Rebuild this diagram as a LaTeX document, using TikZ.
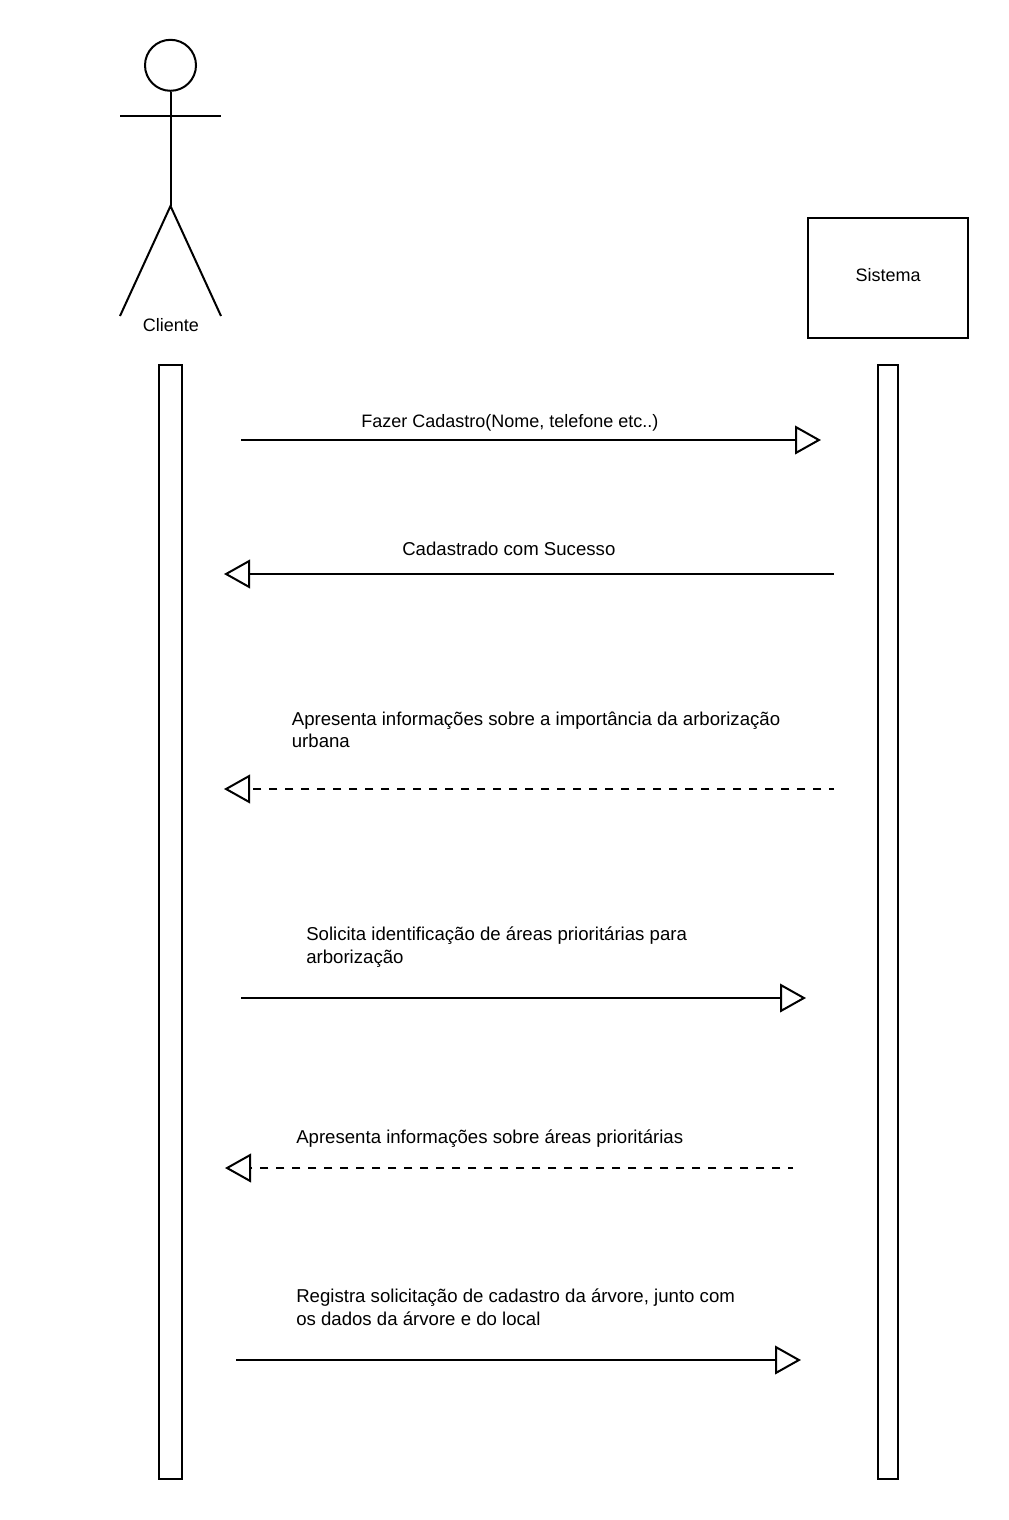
\documentclass[tikz,border=0pt]{standalone}
\usepackage{fontspec}
\setmainfont{Liberation Sans}
\usetikzlibrary{arrows.meta}
\tikzset{
  ln/.style={line width=1.5pt,draw=black},
  box/.style={ln,rectangle,inner sep=0pt,fill=white},
  msg/.style={ln,-{Triangle[open,fill=white,length=19.5pt,width=21.5pt,line width=1.5pt]}},
  ret/.style={msg,dash pattern=on 6.5pt off 5.5pt,dash phase=2.5pt},
  lbl/.style={inner sep=0pt,anchor=base west,align=left,font=\fontsize{13.5pt}{16.9pt}\selectfont,text=black},
  wide/.style={lbl,font=\fontsize{13.96pt}{16.9pt}\selectfont},
}
\begin{document}
\begin{tikzpicture}[x=0.75pt,y=-0.75pt]
\useasboundingbox (0,0) rectangle (1009,1520);
% actor
\node[ln,circle,draw,inner sep=0pt,minimum size=38.25pt] (head) at (170.5,65.3) {};
\coordinate (hip) at (170.5,206);
\coordinate (armL) at (120,116);
\coordinate (armR) at (221,116);
\coordinate (footL) at (120,316);
\coordinate (footR) at (221,316);
\draw[ln] (head.south) -- (hip);
\draw[ln] (armL) -- (armR);
\draw[ln] (footL) -- (hip) -- (footR);
\node[lbl,anchor=base] (cliente) at (170.8,331) {Cliente};
% system
\node[box,minimum width=120pt,minimum height=90pt] (sistema) at (888,278) {};
\node[lbl,anchor=base] (sistemaT) at (888,281) {Sistema};
% lifelines
\node[box,minimum width=17.25pt,minimum height=835.5pt] (lifeA) at (170.5,922) {};
\node[box,minimum width=15pt,minimum height=835.5pt] (lifeB) at (888,922) {};
% messages
\coordinate (m1a) at (241,440); \coordinate (m1b) at (821,440);
\coordinate (m2a) at (834,574); \coordinate (m2b) at (224,574);
\coordinate (m3a) at (834,789); \coordinate (m3b) at (224,789);
\coordinate (m4a) at (241,998); \coordinate (m4b) at (806,998);
\coordinate (m5a) at (793,1168); \coordinate (m5b) at (225,1168);
\coordinate (m6a) at (236,1360); \coordinate (m6b) at (801,1360);
\draw[msg] (m1a) -- (m1b);
\draw[msg] (m2a) -- (m2b);
\draw[ret] (m3a) -- (m3b);
\draw[msg] (m4a) -- (m4b);
\draw[ret] (m5a) -- (m5b);
\draw[msg] (m6a) -- (m6b);
% labels
\node[lbl] (t1) at (361,427) {Fazer Cadastro(Nome, telefone etc..)};
\node[wide] (t2) at (402,555) {Cadastrado com Sucesso};
\node[wide] (t3a) at (291.6,725) {Apresenta informações sobre a importância da arborização};
\node[wide] (t3b) at (291.6,747) {urbana};
\node[wide] (t4a) at (306,940) {Solicita identificação de áreas prioritárias para};
\node[wide] (t4b) at (306,963) {arborização};
\node[wide] (t5) at (296,1143) {Apresenta informações sobre áreas prioritárias};
\node[wide] (t6a) at (296,1302) {Registra solicitação de cadastro da árvore, junto com};
\node[wide] (t6b) at (296,1325) {os dados da árvore e do local};
\end{tikzpicture}
\end{document}
